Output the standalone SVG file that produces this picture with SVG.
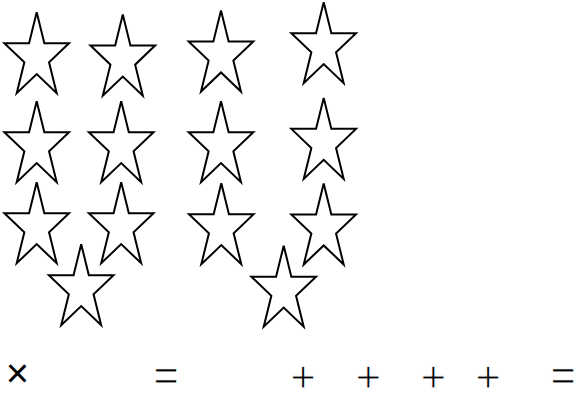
<svg xmlns="http://www.w3.org/2000/svg" xmlns:xlink="http://www.w3.org/1999/xlink" width="577" height="393" viewBox="0 0 577 393">
<style>
.star{fill:#fff;stroke:#000;stroke-width:2;stroke-linejoin:miter}
.sym{font-family:"Liberation Sans",Arial,sans-serif;font-size:44px;fill:#000;stroke:#fff;stroke-width:1.1px;text-anchor:middle}
.times{font-size:40px;stroke:none}
</style>
<defs>
<path id="star" d="M0,-44.8 L7.63,-13.85 L32.34,-13.84 L12.35,5.29 L19.99,36.24 L0,17.11 L-19.99,36.24 L-12.35,5.29 L-32.34,-13.84 L-7.63,-13.85 Z"/>
</defs>
<rect width="577" height="393" fill="#fff"/>
<g id="star1"><use xlink:href="#star" href="#star" class="star" transform="translate(36.7,57)"/></g>
<g id="star2"><use xlink:href="#star" href="#star" class="star" transform="translate(122.8,59.4)"/></g>
<g id="star3"><use xlink:href="#star" href="#star" class="star" transform="translate(221,55.3)"/></g>
<g id="star4"><use xlink:href="#star" href="#star" class="star" transform="translate(323.7,47)"/></g>
<g id="star5"><use xlink:href="#star" href="#star" class="star" transform="translate(36.7,146)"/></g>
<g id="star6"><use xlink:href="#star" href="#star" class="star" transform="translate(121.2,146)"/></g>
<g id="star7"><use xlink:href="#star" href="#star" class="star" transform="translate(221,146)"/></g>
<g id="star8"><use xlink:href="#star" href="#star" class="star" transform="translate(323.7,142.7)"/></g>
<g id="star9"><use xlink:href="#star" href="#star" class="star" transform="translate(36.7,227)"/></g>
<g id="star10"><use xlink:href="#star" href="#star" class="star" transform="translate(121.2,227)"/></g>
<g id="star11"><use xlink:href="#star" href="#star" class="star" transform="translate(81.2,289)"/></g>
<g id="star12"><use xlink:href="#star" href="#star" class="star" transform="translate(221.3,228)"/></g>
<g id="star13"><use xlink:href="#star" href="#star" class="star" transform="translate(323.7,228.3)"/></g>
<g id="star14"><use xlink:href="#star" href="#star" class="star" transform="translate(283.7,290.5)"/></g>
<g id="equation">
<text class="sym times" x="17.5" y="387">×</text>
<text class="sym" x="166" y="391">=</text>
<text class="sym" x="303" y="391.5">+</text>
<text class="sym" x="368.3" y="391.5">+</text>
<text class="sym" x="433.3" y="391.5">+</text>
<text class="sym" x="488" y="391.5">+</text>
<text class="sym" x="563" y="391">=</text>
</g>
</svg>
